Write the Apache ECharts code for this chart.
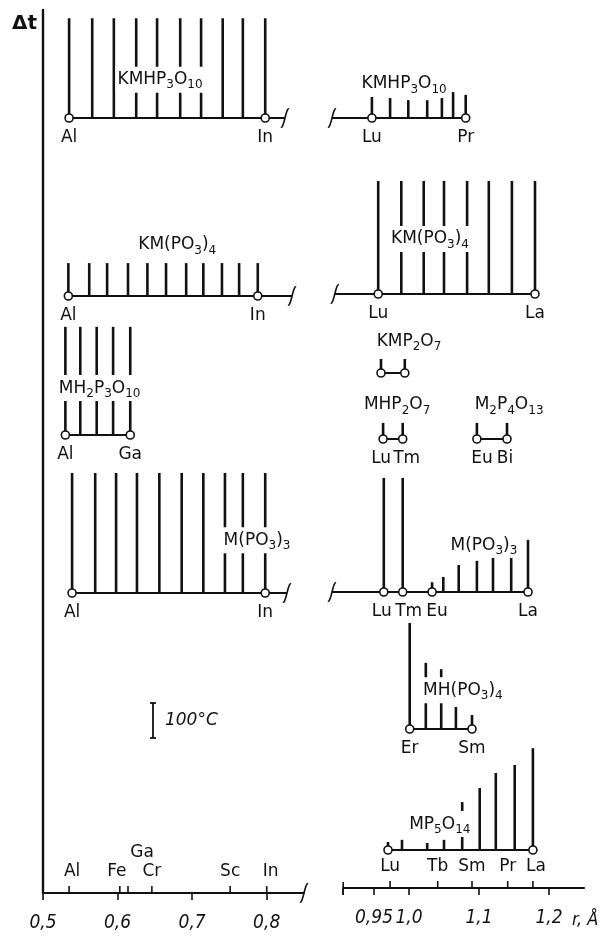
<!DOCTYPE html>
<html>
<head>
<meta charset="utf-8">
<title>Δt – r</title>
<script src="https://cdn.jsdelivr.net/npm/echarts@6/dist/echarts.min.js"></script>
<style>
html,body{margin:0;padding:0;background:#fff;}
#main{width:605px;height:938px;}
</style>
</head>
<body>
<div id="main"></div>
<script>
// ---- data: ionic radius r (Å) of M and Δt (°C) ----
// KMHP3O10
var kmhpAlR  = [0.535,0.566,0.595,0.625,0.653,0.684,0.712,0.741,0.768,0.798];
var kmhpAlDt = [285,285,285,285,285,285,285,285,285,285];
var kmhpAlTag = ['Al',null,null,null,null,null,null,null,null,'In'];
var kmhpLuR  = [0.947,0.973,0.999,1.026,1.047,1.063,1.081];
var kmhpLuDt = [60,57,51,51,57,74,66];
var kmhpLuTag = ['Lu',null,null,null,null,null,'Pr'];
// KM(PO3)4
var kmpo4AlR  = [0.534,0.562,0.586,0.614,0.640,0.665,0.692,0.715,0.740,0.763,0.788];
var kmpo4AlDt = [94,94,94,94,94,94,94,94,94,94,94];
var kmpo4AlTag = ['Al',null,null,null,null,null,null,null,null,null,'In'];
var kmpo4LuR  = [0.956,0.989,1.021,1.050,1.083,1.114,1.147,1.180];
var kmpo4LuDt = [323,323,323,323,323,323,323,323];
var kmpo4LuTag = ['Lu',null,null,null,null,null,null,'La'];
// MH2P3O10
var mh2AlR  = [0.530,0.550,0.572,0.594,0.617];
var mh2AlDt = [309,309,309,309,309];
var mh2AlTag = ['Al',null,null,null,'Ga'];
// KMP2O7, MHP2O7, M2P4O13
var kmp2o7R  = [0.960,0.994];
var kmp2o7Dt = [40,40];
var kmp2o7Tag = ['',''];
var mhp2o7R  = [0.963,0.991];
var mhp2o7Dt = [46,46];
var mhp2o7Tag = ['Lu','Tm'];
var m2p4R  = [1.097,1.140];
var m2p4Dt = [46,46];
var m2p4Tag = ['Eu','Bi'];
// M(PO3)3
var mpo3AlR  = [0.539,0.570,0.598,0.626,0.656,0.686,0.715,0.744,0.768,0.798];
var mpo3AlDt = [343,343,343,343,343,343,343,343,343,343];
var mpo3AlTag = ['Al',null,null,null,null,null,null,null,null,'In'];
var mpo3LuR  = [0.964,0.991,1.033,1.049,1.071,1.097,1.120,1.146,1.170];
var mpo3LuDt = [326,326,28,43,77,89,109,103,149];
var mpo3LuTag = ['Lu','Tm','Eu',null,null,null,null,null,'La'];
// MH(PO3)4
var mhpo4R  = [1.001,1.024,1.046,1.067,1.090];
var mhpo4Dt = [303,189,171,63,40];
var mhpo4Tag = ['Er',null,null,null,'Sm'];
// MP5O14
var mp5R  = [0.970,0.990,1.026,1.050,1.076,1.101,1.124,1.151,1.177];
var mp5Dt = [23,29,20,29,137,177,220,243,291];
var mp5Tag = ['',null,null,null,null,null,null,null,''];
// bottom axes
var leftTicks = [0.5,0.6,0.7,0.8];
var rightTicks = [0.95,1.0,1.1,1.2];
var leftEl  = ['Al','Fe','Ga','Cr','Sc','In'];
var leftElR = [0.535,0.603,0.614,0.646,0.751,0.800];
var rightEl  = ['Lu','Tb','Sm','Pr','La'];
var rightElR = [0.973,1.041,1.090,1.141,1.177];
var scaleBarDt = 100;

// ---- layout ----
var H = 938;
var INK = '#111';
var FONT = 'DejaVu Sans';
var NARROW = '"DejaVu Sans Condensed", "DejaVu Sans"';
var PX_PER_DEG = 0.35;          // 100 °C = 35 px
var SCALE = {L:{x0:43, r0:0.5, k:745.7}, R:{x0:409, r0:1.0, k:700}};
var RANGE = {L:[0.5,0.85], R:[0.88,1.25]};

var rows = [
  {side:'L', base:118, r:kmhpAlR, dt:kmhpAlDt, tag:kmhpAlTag, seg:[0.535,0.8245], brk:0.8245, text:'KMHP{s|3}O{s|10}', at:[0.657,109]},
  {side:'L', base:296, r:kmpo4AlR, dt:kmpo4AlDt, tag:kmpo4AlTag, seg:[0.534,0.834], brk:0.834, text:'KM(PO{s|3}){s|4}', at:[0.68,146]},
  {side:'L', base:435, r:mh2AlR, dt:mh2AlDt, tag:mh2AlTag, seg:[0.530,0.617], text:'MH{s|2}P{s|3}O{s|10}', at:[0.576,134]},
  {side:'L', base:593, r:mpo3AlR, dt:mpo3AlDt, tag:mpo3AlTag, seg:[0.539,0.8272], brk:0.8272, text:'M(PO{s|3}){s|3}', at:[0.787,151]},
  {side:'R', base:118, r:kmhpLuR, dt:kmhpLuDt, tag:kmhpLuTag, seg:[0.89,1.081], brk:0.89, text:'KMHP{s|3}O{s|10}', at:[0.993,97]},
  {side:'R', base:294, r:kmpo4LuR, dt:kmpo4LuDt, tag:kmpo4LuTag, seg:[0.894,1.18], brk:0.894, text:'KM(PO{s|3}){s|4}', at:[1.03,157]},
  {side:'R', base:373, r:kmp2o7R, dt:kmp2o7Dt, tag:kmp2o7Tag, seg:[0.960,0.994], text:'KMP{s|2}O{s|7}', at:[1.0,91]},
  {side:'R', base:439, r:mhp2o7R, dt:mhp2o7Dt, tag:mhp2o7Tag, seg:[0.963,0.991], text:'MHP{s|2}O{s|7}', at:[0.983,97], shift:{Lu:-2,Tm:4}},
  {side:'R', base:439, r:m2p4R, dt:m2p4Dt, tag:m2p4Tag, seg:[1.097,1.140], text:'M{s|2}P{s|4}O{s|13}', at:[1.143,97], shift:{Eu:5,Bi:-2}},
  {side:'R', base:592, r:mpo3LuR, dt:mpo3LuDt, tag:mpo3LuTag, seg:[0.89,1.170], brk:0.89, text:'M(PO{s|3}){s|3}', at:[1.107,134], shift:{Lu:-2,Tm:6,Eu:5}},
  {side:'R', base:729, r:mhpo4R, dt:mhpo4Dt, tag:mhpo4Tag, seg:[1.001,1.090], text:'MH(PO{s|3}){s|4}', at:[1.077,111]},
  {side:'R', base:850, r:mp5R, dt:mp5Dt, tag:mp5Tag, seg:[0.970,1.177], text:'MP{s|5}O{s|14}', at:[1.044,74]}
];

var grids = [], xAxes = [], yAxes = [], series = [];

function addGrid(side, min, max, base, height, ymax, ax, ay) {
  var s = SCALE[side];
  var i = grids.length;
  grids.push({left:s.x0 + (min - s.r0) * s.k, width:(max - min) * s.k,
    bottom:H - base, height:height, show:false, containLabel:false, outerBoundsMode:'none'});
  xAxes.push(Object.assign({gridIndex:i, type:'value', min:min, max:max, show:false}, ax || {}));
  yAxes.push(Object.assign({gridIndex:i, type:'value', min:0, max:ymax, show:false}, ay || {}));
  return i;
}

//竖线
function stickItem(params, api) {
  var p0 = api.coord([api.value(0), 0]);
  var p1 = api.coord([api.value(0), api.value(1)]);
  return {type:'line', shape:{x1:p0[0], y1:p0[1], x2:p1[0], y2:p1[1]},
    style:{stroke:INK, lineWidth:2.6}};
}
//基线
function segItem(params, api) {
  var a = api.coord([api.value(0), 0]);
  var b = api.coord([api.value(1), 0]);
  return {type:'line', shape:{x1:a[0], y1:a[1], x2:b[0], y2:b[1]},
    style:{stroke:INK, lineWidth:2}};
}
//断开符号
function breakItem(params, api) {
  var p = api.coord([api.value(0), 0]);
  return {type:'bezierCurve', shape:{x1:p[0] + 4, y1:p[1] - 9, cpx1:p[0] + 1, cpy1:p[1] - 11,
    cpx2:p[0] - 1, cpy2:p[1] + 11, x2:p[0] - 4, y2:p[1] + 9},
    style:{stroke:INK, lineWidth:1.6, fill:null}};
}
function capItem(params, api) {
  var p = api.coord([api.value(0), 0]);
  return {type:'line', shape:{x1:p[0], y1:p[1] - 6, x2:p[0], y2:p[1] + 7},
    style:{stroke:INK, lineWidth:1.6}};
}

function chemLabel(text) {
  return {show:true, position:'inside', formatter:function(){ return text; },
    color:INK, opacity:1, fontFamily:FONT, fontSize:17, lineHeight:20,
    backgroundColor:'#fff', padding:[3,2],
    rich:{s:{fontFamily:FONT, fontSize:12, lineHeight:12, color:INK, padding:[11,0,0,0]}}};
}

rows.forEach(function(row){
  var top = Math.max(Math.max.apply(null, row.dt), row.at[1]) + 30;
  var gi = addGrid(row.side, RANGE[row.side][0], RANGE[row.side][1], row.base, top * PX_PER_DEG, top);
  var pts = row.r.map(function(r, i){ return [r, row.dt[i]]; });
  series.push({type:'custom', xAxisIndex:gi, yAxisIndex:gi, z:2, renderItem:stickItem,
    encode:{x:0, y:1}, data:pts, silent:true});
  series.push({type:'custom', xAxisIndex:gi, yAxisIndex:gi, z:2, renderItem:segItem,
    encode:{x:[0,1]}, data:[row.seg], silent:true});
  if (row.brk != null) {
    series.push({type:'custom', xAxisIndex:gi, yAxisIndex:gi, z:3, renderItem:breakItem,
      encode:{x:0}, data:[[row.brk]], silent:true});
  }
  var rings = [];
  row.tag.forEach(function(t, i){
    if (t === null) return;
    var dx = (row.shift && row.shift[t]) || 0;
    rings.push({value:[row.r[i], 0], name:t, label:{offset:[dx, 0]}});
  });
  series.push({type:'scatter', xAxisIndex:gi, yAxisIndex:gi, z:4, clip:false, silent:true,
    symbol:'circle', symbolSize:8, data:rings,
    itemStyle:{color:'#fff', borderColor:INK, borderWidth:1.6, opacity:1},
    label:{show:true, position:'bottom', distance:6, formatter:'{b}', opacity:1,
      color:INK, fontFamily:FONT, fontSize:17}});
  series.push({type:'scatter', xAxisIndex:gi, yAxisIndex:gi, z:5, clip:false, silent:true,
    symbolSize:1, itemStyle:{color:'rgba(0,0,0,0)', opacity:1}, data:[row.at], label:chemLabel(row.text)});
});

// 100 °C scale bar
var sg = addGrid('L', 0.5, 0.85, 738, scaleBarDt * PX_PER_DEG, scaleBarDt);
series.push({type:'custom', xAxisIndex:sg, yAxisIndex:sg, silent:true, encode:{x:0, y:1},
  data:[[0.6475, scaleBarDt]],
  renderItem:function(params, api){
    var a = api.coord([api.value(0), 0]);
    var b = api.coord([api.value(0), api.value(1)]);
    var st = {stroke:INK, lineWidth:1.8};
    return {type:'group', children:[
      {type:'line', shape:{x1:a[0], y1:a[1], x2:b[0], y2:b[1]}, style:st},
      {type:'line', shape:{x1:a[0] - 3, y1:a[1], x2:a[0] + 3, y2:a[1]}, style:st},
      {type:'line', shape:{x1:b[0] - 3, y1:b[1], x2:b[0] + 3, y2:b[1]}, style:st},
      {type:'text', style:{text:api.value(1) + '°C', x:a[0] + 12, y:(a[1] + b[1]) / 2,
        align:'left', verticalAlign:'middle', fontFamily:FONT, fontSize:17, fontStyle:'italic', fill:INK}}
    ]};
  }});

var frMin = 0.906;
function tickFmt(v) {
  if (Math.abs(v - frMin) < 1e-6) return '';
  var s = Math.round(v * 100) % 10 ? v.toFixed(2) : v.toFixed(1);
  return s.replace('.', ',');
}
function frameX(ticks, extra) {
  return Object.assign({show:true,
    axisLine:{show:true, onZero:false, lineStyle:{color:INK, width:2}},
    axisTick:{show:true, customValues:ticks, length:7, lineStyle:{color:INK, width:1.6}},
    axisLabel:{show:true, customValues:ticks, formatter:tickFmt, margin:21, showMinLabel:true,
      color:INK, fontFamily:NARROW, fontSize:19, fontStyle:'italic'},
    splitLine:{show:false}}, extra || {});
}
function elementItem(names, shift) {
  return function(params, api){
    var p = api.coord([api.value(0), 0]);
    var nm = names[params.dataIndex];
    var d = shift[nm] || [0, 0];
    return {type:'group', children:[
      {type:'line', shape:{x1:p[0], y1:p[1], x2:p[0], y2:p[1] - 7}, style:{stroke:INK, lineWidth:1.6}},
      {type:'text', style:{text:nm, x:p[0] + d[0], y:p[1] - 21 - d[1], align:'center',
        verticalAlign:'middle', fontFamily:FONT, fontSize:17, fill:INK}}
    ]};
  };
}

// left frame: Δt axis + r axis 0.5…0.85
var fl = addGrid('L', 0.5, 0.85, 893, 883, 1, frameX(leftTicks), {
  show:true, axisLine:{show:true, lineStyle:{color:INK, width:2.4}},
  axisTick:{show:false}, axisLabel:{show:false}, splitLine:{show:false},
  name:'Δt', nameLocation:'end', nameGap:-4,
  nameTextStyle:{align:'right', verticalAlign:'top', padding:[0,6,0,0],
    color:INK, fontFamily:FONT, fontSize:20, fontWeight:'bold'}});
series.push({type:'custom', xAxisIndex:fl, yAxisIndex:fl, silent:true, encode:{x:0},
  data:leftElR.map(function(r){ return [r, 0]; }),
  renderItem:elementItem(leftEl, {Al:[3,0], Fe:[-3,0], Ga:[14,19], In:[4,0]})});
series.push({type:'custom', xAxisIndex:fl, yAxisIndex:fl, silent:true, encode:{x:0},
  data:[[0.85]], renderItem:breakItem});

// right frame: r axis (min carried in the tick list so 0,95 is not dropped)
var fr = addGrid('R', frMin, 1.25, 888, 20, 1, frameX([frMin].concat(rightTicks), {
  name:'r, Å', nameLocation:'end', nameGap:-12,
  nameTextStyle:{align:'left', verticalAlign:'top', padding:[23,0,0,0],
    color:INK, fontFamily:NARROW, fontSize:18, fontStyle:'italic'}}));
series.push({type:'custom', xAxisIndex:fr, yAxisIndex:fr, silent:true, encode:{x:0},
  data:rightElR.map(function(r){ return [r, 0]; }),
  renderItem:elementItem(rightEl, {La:[3,0]})});
series.push({type:'custom', xAxisIndex:fr, yAxisIndex:fr, silent:true, encode:{x:0},
  data:[[frMin]], renderItem:capItem});

var chart = echarts.init(document.getElementById('main'), null, {renderer:'canvas'});
chart.setOption({
  animation:false,
  backgroundColor:'#fff',
  grid:grids,
  xAxis:xAxes,
  yAxis:yAxes,
  series:series
});
</script>
</body>
</html>
